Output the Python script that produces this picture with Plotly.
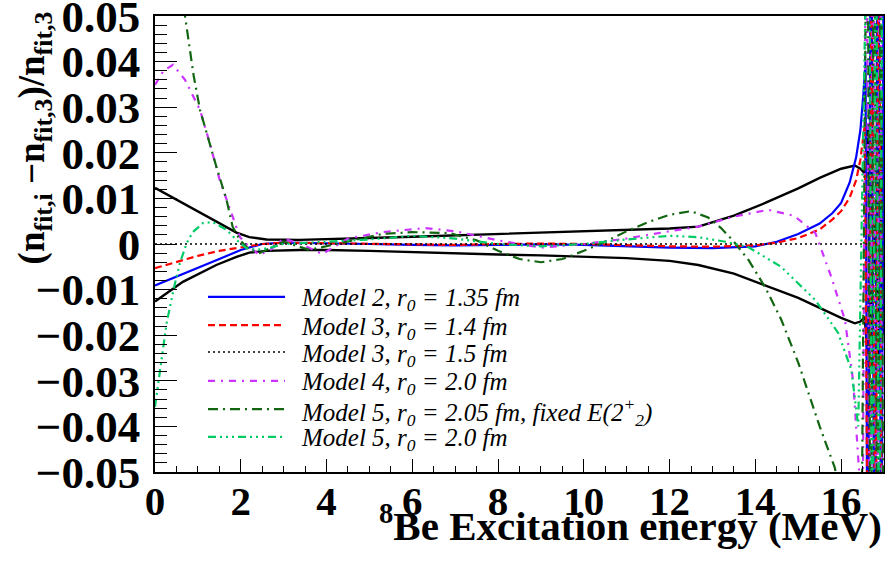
import plotly.graph_objects as go

# ---------------- data ----------------
osc_x = [16.62, 16.70, 16.78, 16.86, 16.94, 17.0]

m2_x = [0, 0.5, 1.0, 1.5, 2.0, 2.5, 3, 4, 5, 6, 7, 8, 9, 10, 11, 12, 13, 14, 14.5, 15, 15.5, 15.8, 16.0, 16.2, 16.35, 16.45, 16.52, 16.57] + osc_x
m2_y = [-0.0091, -0.0072, -0.0053, -0.0033, -0.0013, 0.0, 0.0003, 0.0002, 0.0, -0.0002, -0.0003, -0.0002, -0.0001, -0.0002,
        -0.0005, -0.0008, -0.0009, -0.0005, 0.0005, 0.0022, 0.0045, 0.0068, 0.009, 0.0135, 0.019, 0.025, 0.033, 0.040,
        -0.1, 0.1, -0.1, 0.1, -0.1, 0.1]

m3a_x = [0, 0.5, 1.0, 1.5, 2.0, 2.5, 3, 4, 5, 6, 7, 8, 9, 10, 11, 12, 13, 14, 14.5, 15, 15.5, 15.8, 16.0, 16.2, 16.35, 16.45, 16.55] + [x + 0.02 for x in osc_x[:-1]]
m3a_y = [-0.0053, -0.0040, -0.0026, -0.0015, -0.0007, 0.0, 0.0003, 0.0002, 0.0, -0.0001, -0.0002, 0.0, 0.0001, 0.0,
         -0.0003, -0.0005, -0.0006, -0.0003, 0.0003, 0.0013, 0.0032, 0.0054, 0.0072, 0.0102, 0.014, 0.0185, 0.026,
         -0.1, 0.1, -0.1, 0.1, -0.1]

m3b_x = [0, 17]
m3b_y = [0.0, 0.0]

m4_x = [0, 0.2, 0.42, 0.7, 1.05, 1.28, 1.51, 1.74, 1.98, 2.2, 2.44, 2.7, 3.0, 3.4, 3.9, 4.5, 5.3, 6.3, 7.0, 8.0, 9.0, 10, 11, 12,
        12.67, 13.5, 14.3, 14.9, 15.4, 15.77, 16.09, 16.28, 16.42, 16.5] + [x - 0.03 for x in osc_x]
m4_y = [0.0349, 0.038, 0.0393, 0.036, 0.0294, 0.022, 0.014, 0.0081, 0.0015, -0.0007, -0.0024, -0.0012, 0.0012, 0.0, -0.0022,
        0.0012, 0.0026, 0.0035, 0.0028, 0.0008, -0.0008, 0.0, 0.0012, 0.0028, 0.0038, 0.006, 0.0075, 0.0062, 0.0024, -0.0072,
        -0.0167, -0.030, -0.05, -0.07,
        0.1, -0.1, 0.1, -0.1, 0.1, -0.1]

m5a_x = [0, 0.3, 0.5, 0.7, 0.9, 1.05, 1.2, 1.43, 1.67, 1.81, 1.98, 2.2, 2.44, 3.0, 3.6, 4.5, 5.3, 6.0, 6.86, 7.5, 8.0, 8.5,
         9.0, 9.5, 10.0, 10.5, 11.0, 11.5, 12.0, 12.5, 12.9, 13.2, 13.5, 13.84, 14.23, 14.6, 15.0, 15.5, 15.85, 16.0, 16.45] + [x - 0.01 for x in osc_x]
m5a_y = [0.085, 0.07, 0.059, 0.05, 0.037, 0.0294, 0.0243, 0.017, 0.0096, 0.0038, 0.0009, -0.0013, -0.002, 0.0005, -0.0013,
         0.0005, 0.0022, 0.0026, 0.0024, 0.0008, -0.0015, -0.0033, -0.004, -0.0033, -0.0015, 0.0005, 0.0028, 0.0048, 0.0064,
         0.0072, 0.0058, 0.0035, 0.0005, -0.0035, -0.0095, -0.0165, -0.026, -0.040, -0.049, -0.055, -0.1,
         0.1, -0.1, 0.1, -0.1, 0.1, -0.1]

m5b_x = [0, 0.12, 0.27, 0.43, 0.58, 0.74, 0.88, 1.12, 1.35, 1.67, 1.9, 2.13, 2.37, 2.7, 3.0, 4.0, 5.0, 6.0, 7.0, 8.0, 9.0,
         10.0, 11.0, 12.0, 12.67, 13.3, 13.84, 14.6, 15.4, 15.93, 16.24, 16.4] + [x + 0.03 for x in osc_x[:-1]]
m5b_y = [-0.0357, -0.027, -0.0174, -0.0101, -0.0042, 0.0002, 0.0026, 0.0046, 0.0048, 0.0031, 0.0009, -0.0009, -0.0013,
         -0.0008, 0.0, 0.0005, 0.001, 0.0018, 0.0012, 0.0, -0.0005, 0.0, 0.001, 0.0018, 0.0015, 0.0005, -0.0007, -0.005,
         -0.0123, -0.0195, -0.0276, -0.04,
         0.1, -0.1, 0.1, -0.1, 0.1]

env_hi_x = [0, 0.65, 1.43, 1.9, 2.2, 2.6, 3.37, 4, 5, 6, 7, 8, 9, 10, 11, 12, 12.67, 13.5, 14.23, 15.0, 15.5, 16.0, 16.32,
            16.45, 16.55, 16.63, 16.67, 16.75, 16.8, 16.88, 16.93, 17.0]
env_hi_y = [0.0123, 0.009, 0.0049, 0.0025, 0.0015, 0.001, 0.0009, 0.001, 0.0013, 0.0016, 0.0019, 0.0022, 0.0025, 0.0028,
            0.0031, 0.0034, 0.0038, 0.0062, 0.009, 0.0122, 0.0145, 0.0165, 0.0172, 0.0165, 0.0155, 0.026, -0.026, 0.0,
            -0.005, 0.026, -0.026, 0.02]

env_lo_x = [0, 0.65, 1.43, 1.9, 2.2, 2.6, 3.37, 4, 5, 6, 7, 8, 9, 10, 11, 12, 12.67, 13.5, 14.23, 15.0, 15.5, 16.0, 16.32,
            16.45, 16.55, 16.63, 16.67, 16.75, 16.8, 16.88, 16.93, 17.0]
env_lo_y = [-0.0126, -0.0083, -0.0046, -0.0028, -0.0019, -0.0015, -0.0013, -0.0013, -0.0015, -0.0018, -0.002, -0.0023,
            -0.0025, -0.0028, -0.0031, -0.0037, -0.0046, -0.0065, -0.009, -0.0118, -0.014, -0.0162, -0.0174, -0.017,
            -0.016, -0.026, 0.026, 0.0, 0.005, -0.026, 0.026, -0.02]

labels = [
    "Model 2, r<sub>0</sub> = 1.35 fm",
    "Model 3, r<sub>0</sub> = 1.4 fm",
    "Model 3, r<sub>0</sub> = 1.5 fm",
    "Model 4, r<sub>0</sub> = 2.0 fm",
    "Model 5, r<sub>0</sub> = 2.05 fm, fixed E(2<sup>+</sup><sub>2</sub>)",
    "Model 5, r<sub>0</sub> = 2.0 fm",
]

y_ticks = [-0.05, -0.04, -0.03, -0.02, -0.01, 0, 0.01, 0.02, 0.03, 0.04, 0.05]
y_ticktext = ["\u22120.05", "\u22120.04", "\u22120.03", "\u22120.02", "\u22120.01", "0", "0.01", "0.02", "0.03", "0.04", "0.05"]
x_ticks = [0, 2, 4, 6, 8, 10, 12, 14, 16]

# ---------------- figure ----------------
SERIF = "Liberation Serif, Times New Roman, serif"
fig = go.Figure()

fig.add_trace(go.Scatter(x=env_hi_x, y=env_hi_y, mode="lines", line=dict(color="black", width=2.4), showlegend=False))
fig.add_trace(go.Scatter(x=env_lo_x, y=env_lo_y, mode="lines", line=dict(color="black", width=2.4), showlegend=False))

series = [
    (m2_x, m2_y, "#0000ff", "solid", 2.2),
    (m3a_x, m3a_y, "#ff0000", "7px,4px", 2.2),
    (m3b_x, m3b_y, "#000000", "2px,3px", 1.6),
    (m4_x, m4_y, "#cc33ff", "7px,6px,2px,6px", 2.2),
    (m5a_x, m5a_y, "#126612", "10px,5px,2px,5px", 2.2),
    (m5b_x, m5b_y, "#00cc66", "8px,4px,2px,4px,2px,4px,2px,4px", 2.2),
]
for (xs, ys, col, dash, w), name in zip(series, labels):
    fig.add_trace(go.Scatter(x=xs, y=ys, mode="lines", name=name, showlegend=False,
                             line=dict(color=col, dash=dash, width=w)))

# legend drawn as annotations + line samples (positions in paper units of the plot area)
row_y = [0.384, 0.322, 0.263, 0.200, 0.138, 0.077]
shapes = []
annots = []
for (xs, ys, col, dash, w), name, ry in zip(series, labels, row_y):
    shapes.append(dict(type="line", xref="paper", yref="paper", x0=0.0727, x1=0.1783, y0=ry, y1=ry,
                       line=dict(color=col, dash=dash, width=w)))
    annots.append(dict(text=name, xref="paper", yref="paper", x=0.197, y=ry, xanchor="left", yanchor="middle",
                       yshift=-3, showarrow=False,
                       font=dict(family=SERIF, size=25, style="italic", color="black")))

annots += [
    dict(text="(n<sub>fit,i</sub> \u2212n<sub>fit,3</sub>)/n<sub>fit,3</sub>", textangle=-90,
         xref="paper", yref="paper", x=-0.165, y=1.015, xanchor="center", yanchor="top", showarrow=False,
         font=dict(family=SERIF, size=37, weight="bold")),
    dict(text="<sup>8</sup>Be Excitation energy (MeV)", xref="paper", yref="paper", x=1.0, y=-0.112,
         xanchor="right", yanchor="middle", showarrow=False,
         font=dict(family=SERIF, size=41, weight="bold")),
]

fig.update_layout(
    width=885, height=563,
    margin=dict(l=155, r=1, t=16, b=91, autoexpand=False),
    paper_bgcolor="white", plot_bgcolor="white",
    font=dict(family=SERIF, color="black"),
    showlegend=False,
    hovermode=False,
    xaxis=dict(range=[0, 17], tickvals=x_ticks, ticks="inside", ticklen=13, tickwidth=1, tickcolor="black",
               minor=dict(ticks="inside", ticklen=6, dtick=0.5, tickcolor="black", tickwidth=1),
               showline=True, linecolor="black", linewidth=1.5, mirror=True, showgrid=False, zeroline=False,
               tickfont=dict(family=SERIF, size=41, weight="bold"), ticklabeloverflow="allow",
               ticklabelstandoff=-8, automargin=False, fixedrange=True),
    yaxis=dict(range=[-0.05, 0.05], tickvals=y_ticks, ticktext=y_ticktext, ticks="inside", ticklen=22, tickwidth=1,
               tickcolor="black",
               minor=dict(ticks="inside", ticklen=12, dtick=0.002, tickcolor="black", tickwidth=1),
               showline=True, linecolor="black", linewidth=1.5, mirror=True, showgrid=False, zeroline=False,
               tickfont=dict(family=SERIF, size=45, weight="bold"), ticklabelstandoff=4,
               ticklabeloverflow="allow", automargin=False, fixedrange=True),
    shapes=shapes,
    annotations=annots,
)

# remove the default 8px page margin so the 885x563 figure fills the window exactly
fig.write_html("out.html", config={"displayModeBar": False},
               post_script="document.body.style.margin='0';")
